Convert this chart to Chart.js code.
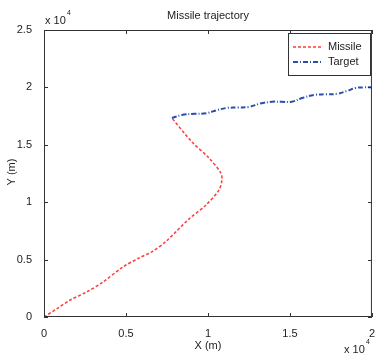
<!DOCTYPE html>
<html>
<head>
<meta charset="utf-8">
<script src="https://cdn.jsdelivr.net/npm/chart.js@4"></script>
<style>
  html, body { margin: 0; padding: 0; background: #fff; }
  #wrap { width: 377px; height: 359px; }
</style>
</head>
<body>
<div id="wrap"><canvas id="chart" width="377" height="359"></canvas></div>
<script>
// Trajectory data (metres)
const missileX = [0, 800, 1600, 2600, 3600, 4800, 5800, 6600, 7450, 8850, 9880, 10670, 10850, 10790, 10060, 9030, 7800];
const missileY = [0, 740, 1480, 2180, 3050, 4350, 5140, 5700, 6600, 8550, 9760, 11060, 11930, 12540, 13850, 15240, 17330];
const targetX = [7800, 8400, 9200, 9900, 10500, 11100, 11800, 12500, 13200, 13900, 14500, 15100, 15800, 16500, 17200, 17900, 18500, 19000, 19500, 20000];
const targetY = [17330, 17600, 17700, 17750, 18000, 18200, 18250, 18300, 18600, 18750, 18750, 18750, 19100, 19350, 19400, 19450, 19700, 19950, 20000, 20000];
const xTicks = [0, 5000, 10000, 15000, 20000];
const yTicks = [0, 5000, 10000, 15000, 20000, 25000];

const FONT = 'Liberation Sans, Arial, sans-serif';

function toPoints(xs, ys) {
    return xs.map((x, i) => ({ x: x, y: ys[i] }));
}

// Draws the box, inward ticks, title, axis labels, exponent notes and legend
const matlabFrame = {
    id: 'matlabFrame',
    afterDraw(chart) {
        const ctx = chart.ctx;
        const a = chart.chartArea;
        const xs = chart.scales.x;
        const ys = chart.scales.y;
        ctx.save();

        // axes box
        ctx.strokeStyle = '#333';
        ctx.lineWidth = 1;
        ctx.strokeRect(a.left + 0.5, a.top + 0.5, a.right - a.left - 1, a.bottom - a.top - 1);

        // inward ticks on all four sides
        ctx.beginPath();
        xTicks.forEach(v => {
            const px = Math.round(xs.getPixelForValue(v)) + 0.5;
            ctx.moveTo(px, a.bottom); ctx.lineTo(px, a.bottom - 4);
            ctx.moveTo(px, a.top); ctx.lineTo(px, a.top + 4);
        });
        yTicks.forEach(v => {
            const py = Math.round(ys.getPixelForValue(v)) + 0.5;
            ctx.moveTo(a.left, py); ctx.lineTo(a.left + 4, py);
            ctx.moveTo(a.right, py); ctx.lineTo(a.right - 4, py);
        });
        ctx.stroke();

        ctx.fillStyle = '#222';
        ctx.textBaseline = 'middle';

        // title
        ctx.font = '11px ' + FONT;
        ctx.textAlign = 'center';
        ctx.fillText('Missile trajectory', (a.left + a.right) / 2, 16);

        // axis titles
        ctx.fillText('X (m)', (a.left + a.right) / 2, 346);
        ctx.save();
        ctx.translate(12, 172);
        ctx.rotate(-Math.PI / 2);
        ctx.fillText('Y (m)', 0, 0);
        ctx.restore();

        // exponent notes
        ctx.textAlign = 'left';
        ctx.font = '11px ' + FONT;
        ctx.fillText('x 10', 45, 21);
        ctx.fillText('x 10', 344, 350);
        ctx.font = '7px ' + FONT;
        ctx.fillText('4', 67, 13);
        ctx.fillText('4', 366, 342);

        // legend
        const lx = 288, ly = 33, lw = 82, lh = 42;
        ctx.fillStyle = '#fff';
        ctx.fillRect(lx, ly, lw, lh);
        ctx.strokeStyle = '#333';
        ctx.strokeRect(lx + 0.5, ly + 0.5, lw, lh);
        chart.data.datasets.forEach((ds, i) => {
            const y = 47 + i * 15;
            ctx.strokeStyle = ds.borderColor;
            ctx.lineWidth = ds.borderWidth;
            ctx.setLineDash(ds.borderDash);
            ctx.beginPath();
            ctx.moveTo(293, y);
            ctx.lineTo(323, y);
            ctx.stroke();
            ctx.setLineDash([]);
            ctx.fillStyle = '#222';
            ctx.font = '11px ' + FONT;
            ctx.textAlign = 'left';
            ctx.fillText(ds.label, 328, y);
        });
        ctx.restore();
    }
};

new Chart(document.getElementById('chart'), {
    type: 'scatter',
    data: {
        datasets: [{
            label: 'Missile',
            data: toPoints(missileX, missileY),
            showLine: true,
            borderColor: '#ff3b3b',
            borderWidth: 1.5,
            borderDash: [3, 2],
            pointRadius: 0,
            tension: 0.3
        }, {
            label: 'Target',
            data: toPoints(targetX, targetY),
            showLine: true,
            borderColor: '#2a4db0',
            borderWidth: 2,
            borderDash: [5, 2, 1, 2],
            pointRadius: 0,
            tension: 0.4
        }]
    },
    options: {
        responsive: false,
        animation: false,
        layout: { padding: { left: 0, top: 30, right: 3, bottom: 0 } },
        plugins: {
            legend: { display: false },
            tooltip: { enabled: false }
        },
        scales: {
            x: {
                type: 'linear',
                min: 0, max: 20000,
                afterBuildTicks: s => { s.ticks = xTicks.map(v => ({ value: v })); },
                afterFit: s => { s.height = 42; },
                grid: { display: false },
                border: { display: false },
                ticks: {
                    color: '#222',
                    font: { family: FONT, size: 11 },
                    padding: 2,
                    maxRotation: 0,
                    callback: v => String(v / 10000)
                }
            },
            y: {
                type: 'linear',
                min: 0, max: 25000,
                afterBuildTicks: s => { s.ticks = yTicks.map(v => ({ value: v })); },
                afterFit: s => { s.width = 44; },
                grid: { display: false },
                border: { display: false },
                ticks: {
                    color: '#222',
                    font: { family: FONT, size: 11 },
                    padding: 4,
                    callback: v => String(v / 10000)
                }
            }
        }
    },
    plugins: [matlabFrame]
});
</script>
</body>
</html>
